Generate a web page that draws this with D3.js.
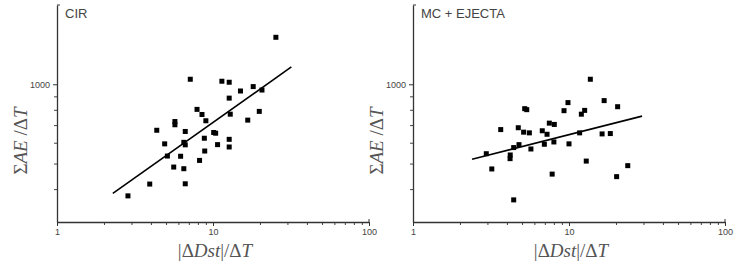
<!DOCTYPE html>
<html>
<head>
<meta charset="utf-8">
<script src="https://cdn.jsdelivr.net/npm/d3@7"></script>
<style>
  body { margin: 0; background: #fff; }
  svg { display: block; }
</style>
</head>
<body>
<div id="chart"></div>
<script>

// CIR panel
let cirDst = [25.3, 7.15, 11.4, 12.7, 18.1, 15.0, 20.6, 12.7, 7.9, 8.5, 12.9, 19.8, 9.0, 16.7,
  5.7, 5.7, 4.36, 6.64, 10.1, 10.4, 8.8, 12.7, 4.9, 6.5, 6.64, 10.7, 12.7, 8.85, 5.1, 6.2,
  8.2, 5.6, 6.5, 3.93, 6.64, 2.85];
let cirAE = [1508, 1045, 1027, 1018, 980, 943, 951, 886, 803, 768, 770, 789, 727, 731,
  722, 702, 669, 662, 656, 652, 624, 618, 594, 602, 589, 590, 578, 558, 534, 533,
  514, 485, 478, 418, 419, 377];
let cirFitX = [2.28, 31.8];
let cirFitY = [385, 1164];

// MC + EJECTA panel
let mcDst = [13.7, 9.85, 16.8, 20.5, 9.29, 12.6, 12.0, 5.2, 5.36, 7.48, 8.05, 3.65, 4.73, 6.74,
  5.12, 5.57, 7.23, 11.7, 16.3, 18.4, 8.0, 6.95, 4.78, 10.0, 4.42, 5.7, 2.95, 4.2, 4.19,
  12.9, 23.8, 3.2, 7.8, 20.2, 4.42];
let mcAE = [1045, 852, 867, 822, 794, 796, 770, 808, 801, 712, 704, 673, 684, 666,
  658, 654, 646, 654, 648, 650, 604, 592, 590, 594, 575, 568, 545, 539, 522,
  511, 491, 477, 456, 446, 364];
let mcFitX = [2.39, 29.4];
let mcFitY = [519, 757];

let xMajor = [1, 10, 100];
let xMinor = [2, 3, 4, 5, 6, 7, 8, 9, 20, 30, 40, 50, 60, 70, 80, 90];
let yMajor = [1000];
let yMinor = [400, 500, 600, 700, 800, 900];

let width = 738, height = 272;

let svg = d3.select("#chart")
  .append("svg")
    .attr("width", width)
    .attr("height", height);

function drawPanel(left, title, xs, ys, fitX, fitY) {
  let x = d3.scaleLog().domain([1, 100]).range([left, left + 312]);
  let y = d3.scaleLog().domain([300, 2000]).range([222, 5]);

  let g = svg.append("g");

  // minor ticks
  g.append("g")
    .attr("transform", "translate(0,222)")
    .call(d3.axisBottom(x).tickValues(xMinor).tickSize(3).tickFormat(""))
    .call(a => a.select(".domain").remove())
    .selectAll("line").attr("stroke", "#444");

  g.append("g")
    .attr("transform", `translate(${left},0)`)
    .call(d3.axisLeft(y).tickValues(yMinor).tickSize(3).tickFormat(""))
    .call(a => a.select(".domain").remove())
    .selectAll("line").attr("stroke", "#444");

  // major ticks + labels
  let xa = g.append("g")
    .attr("transform", "translate(0,222)")
    .call(d3.axisBottom(x).tickValues(xMajor).tickSize(4).tickSizeOuter(0).tickPadding(3)
      .tickFormat(d3.format("d")));
  xa.select(".domain").attr("stroke", "#333").attr("stroke-width", 1.3);
  xa.selectAll("line").attr("stroke", "#333");
  xa.selectAll("text").style("font-family", "Arial, 'Liberation Sans', sans-serif")
    .style("font-size", "9px").attr("fill", "#444");

  let ya = g.append("g")
    .attr("transform", `translate(${left},0)`)
    .call(d3.axisLeft(y).tickValues(yMajor).tickSize(4).tickSizeOuter(0).tickPadding(3)
      .tickFormat(d3.format("d")));
  ya.select(".domain").attr("stroke", "#333").attr("stroke-width", 1.3);
  ya.selectAll("line").attr("stroke", "#333");
  ya.selectAll("text").style("font-family", "Arial, 'Liberation Sans', sans-serif")
    .style("font-size", "9px").attr("fill", "#444");

  // small end tick at top of y axis and right of x axis
  g.append("line")
    .attr("x1", left).attr("x2", left + 3)
    .attr("y1", y(2000)).attr("y2", y(2000))
    .attr("stroke", "#333");
  g.append("line")
    .attr("x1", x(100)).attr("x2", x(100))
    .attr("y1", 222).attr("y2", 219)
    .attr("stroke", "#333");

  // title
  g.append("text")
    .attr("x", left + 8)
    .attr("y", 18)
    .style("font-family", "Arial, 'Liberation Sans', sans-serif")
    .style("font-size", "13px")
    .attr("fill", "#444")
    .text(title);

  // axis titles
  let yl = g.append("text")
    .attr("transform", `translate(${left - 30},141) rotate(-90)`)
    .attr("text-anchor", "middle")
    .style("font-family", "'Liberation Serif', 'DejaVu Serif', serif")
    .style("font-size", "19px")
    .attr("fill", "#555");
  yl.append("tspan").text("Σ");
  yl.append("tspan").style("font-style", "italic").text("AE");
  yl.append("tspan").text(" /Δ");
  yl.append("tspan").style("font-style", "italic").text("T");

  let xl = g.append("text")
    .attr("x", x(10) + 2)
    .attr("y", 257)
    .attr("text-anchor", "middle")
    .style("font-family", "'Liberation Serif', 'DejaVu Serif', serif")
    .style("font-size", "19px")
    .attr("fill", "#555");
  xl.append("tspan").text("|Δ");
  xl.append("tspan").style("font-style", "italic").text("Dst");
  xl.append("tspan").text("|/Δ");
  xl.append("tspan").style("font-style", "italic").text("T");

  // points
  let pts = xs.map((d, i) => ({ dst: d, ae: ys[i] }));
  g.selectAll("rect.pt")
    .data(pts)
    .join("rect")
    .attr("class", "pt")
    .attr("x", d => x(d.dst) - 2.5)
    .attr("y", d => y(d.ae) - 2.5)
    .attr("width", 5)
    .attr("height", 5)
    .attr("fill", "#000");

  // fit line
  let line = d3.line()
    .x(d => x(d[0]))
    .y(d => y(d[1]));

  g.append("path")
    .datum(fitX.map((d, i) => [d, fitY[i]]))
    .attr("fill", "none")
    .attr("stroke", "#000")
    .attr("stroke-width", 1.6)
    .attr("d", line);
}

drawPanel(57, "CIR", cirDst, cirAE, cirFitX, cirFitY);
drawPanel(413, "MC + EJECTA", mcDst, mcAE, mcFitX, mcFitY);

</script>
</body>
</html>
